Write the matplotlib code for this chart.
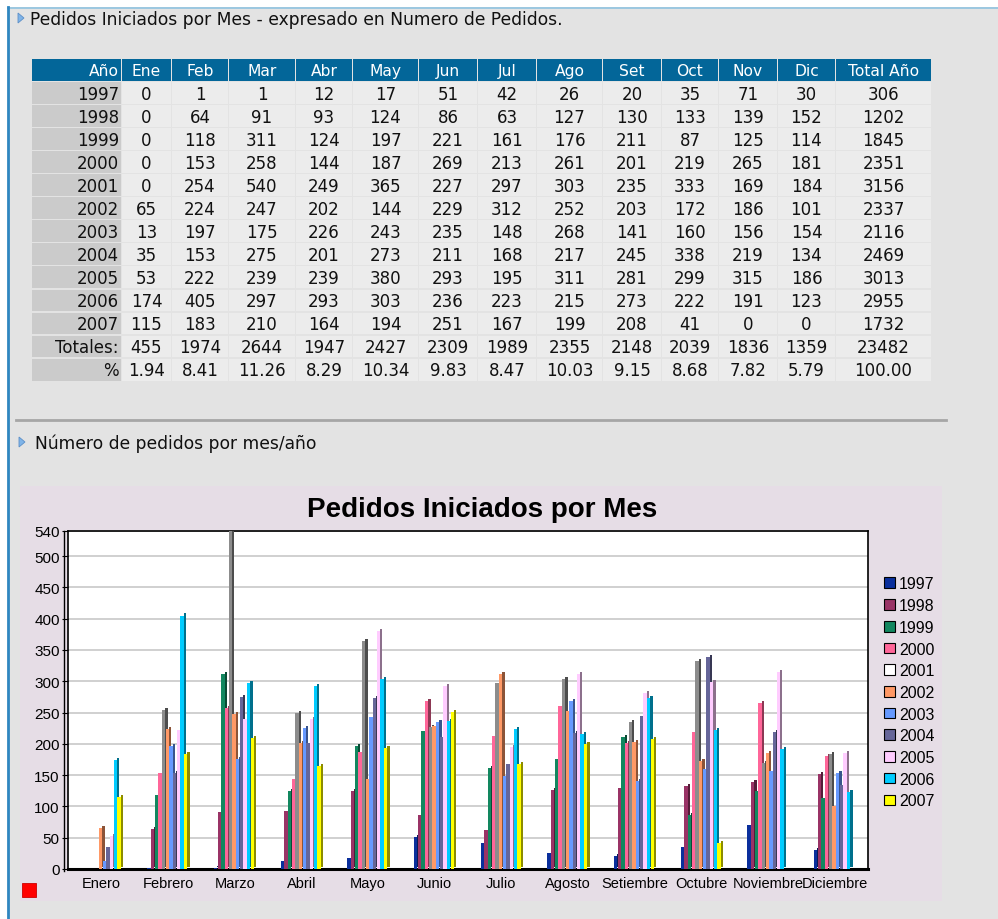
import matplotlib
matplotlib.use("Agg")
import matplotlib.pyplot as plt
from matplotlib.patches import Rectangle, Polygon, Patch
import numpy as np

years = [1997, 1998, 1999, 2000, 2001, 2002, 2003, 2004, 2005, 2006, 2007]
meses_cortos = ["Ene", "Feb", "Mar", "Abr", "May", "Jun", "Jul", "Ago", "Set", "Oct", "Nov", "Dic"]
meses = ["Enero", "Febrero", "Marzo", "Abril", "Mayo", "Junio", "Julio", "Agosto",
         "Setiembre", "Octubre", "Noviembre", "Diciembre"]

p1997 = [0, 1, 1, 12, 17, 51, 42, 26, 20, 35, 71, 30]
p1998 = [0, 64, 91, 93, 124, 86, 63, 127, 130, 133, 139, 152]
p1999 = [0, 118, 311, 124, 197, 221, 161, 176, 211, 87, 125, 114]
p2000 = [0, 153, 258, 144, 187, 269, 213, 261, 201, 219, 265, 181]
p2001 = [0, 254, 540, 249, 365, 227, 297, 303, 235, 333, 169, 184]
p2002 = [65, 224, 247, 202, 144, 229, 312, 252, 203, 172, 186, 101]
p2003 = [13, 197, 175, 226, 243, 235, 148, 268, 141, 160, 156, 154]
p2004 = [35, 153, 275, 201, 273, 211, 168, 217, 245, 338, 219, 134]
p2005 = [53, 222, 239, 239, 380, 293, 195, 311, 281, 299, 315, 186]
p2006 = [174, 405, 297, 293, 303, 236, 223, 215, 273, 222, 191, 123]
p2007 = [115, 183, 210, 164, 194, 251, 167, 199, 208, 41, 0, 0]

series = [p1997, p1998, p1999, p2000, p2001, p2002, p2003, p2004, p2005, p2006, p2007]

colores = ["#0a2f9c", "#993366", "#12875f", "#ff6699", "#8c8c8c", "#ff9966",
           "#6699ff", "#666699", "#ffccff", "#00ccff", "#ffff00"]
colores_leyenda = colores[:4] + ["#ffffff"] + colores[5:]

W, H = 998, 920
fig = plt.figure(figsize=(W / 100, H / 100), dpi=100)
fig.patch.set_facecolor("white")

# --- pagina de fondo (coordenadas en pixeles) ---
bg = fig.add_axes([0, 0, 1, 1])
bg.set_xlim(0, W)
bg.set_ylim(H, 0)
bg.axis("off")
bg.add_patch(Rectangle((8, 8), W - 8, H - 8, facecolor="#e3e3e3", edgecolor="none"))
bg.plot([8, W], [8.5, 8.5], color="#8fc3e0", lw=1.2)
bg.plot([8.5, 8.5], [8, H], color="#2f86c0", lw=2)

def triangulo(x, y):
    bg.add_patch(Polygon([[x, y - 5], [x, y + 5], [x + 6, y]], closed=True,
                         facecolor="#7fb4e8", edgecolor="#5c8fc7", lw=0.6))

triangulo(18, 19)
bg.text(30, 20, "Pedidos Iniciados por Mes - expresado en Numero de Pedidos.",
        fontsize=12.3, family="DejaVu Sans", va="center", ha="left", color="#111111")

# --- tabla ---
bordes = [32, 122, 172, 229, 296, 353, 419, 478, 537, 603, 662, 719, 778, 836, 932]
encab = ["Año"] + meses_cortos + ["Total Año"]
totales_mes = [sum(s[m] for s in series) for m in range(12)]
gran_total = sum(totales_mes)
filas = []
for y, s in zip(years, series):
    filas.append([str(y)] + [str(v) for v in s] + [str(sum(s))])
filas.append(["Totales:"] + [str(v) for v in totales_mes] + [str(gran_total)])
filas.append(["%"] + ["%.2f" % (100 * v / gran_total) for v in totales_mes] + ["100.00"])

top, paso = 60, 23.05
for r, fila in enumerate([encab] + filas):
    y0 = top + r * paso
    for c in range(len(bordes) - 1):
        x0, x1 = bordes[c], bordes[c + 1] - 1
        if r == 0:
            fc, tc, fs = "#036699", "white", 11.2
        elif c == 0:
            fc, tc, fs = "#cbcbcb", "#111111", 12
        else:
            fc, tc, fs = "#ececec", "#111111", 12
        bg.add_patch(Rectangle((x0, y0), x1 - x0, paso - 1.2, facecolor=fc, edgecolor="none"))
        if c == 0:
            bg.text(x1 - 2, y0 + paso / 2, fila[c], ha="right", va="center",
                    fontsize=fs, color=tc, family="DejaVu Sans")
        else:
            bg.text((x0 + x1) / 2, y0 + paso / 2, fila[c], ha="center", va="center",
                    fontsize=fs, color=tc, family="DejaVu Sans")

bg.plot([16, 946], [421, 421], color="#a6a6a6", lw=2)
triangulo(19, 443)
bg.text(35, 444, "Número de pedidos por mes/año", fontsize=12.3, family="DejaVu Sans",
        va="center", ha="left", color="#111111")

# --- panel del grafico ---
bg.add_patch(Rectangle((20, 487), 922, 415, facecolor="#e6dde6", edgecolor="none"))
bg.add_patch(Rectangle((22, 884), 14, 14, facecolor="#ff0000", edgecolor="#cc0000", lw=0.6))
bg.plot([64.5, 64.5], [532, 872], color="black", lw=1)

ax = fig.add_axes([68 / W, (H - 870) / H, 800 / W, 338 / H])
ax.set_facecolor("white")
x = np.arange(12)
paso_barra = 0.055
ancho = 0.05
lado = 0.035
dy = 3.2
for j, (vals, col) in enumerate(zip(series, colores)):
    pos = x + (j - 5) * paso_barra - 0.01
    rgb = np.array(matplotlib.colors.to_rgb(col))
    oscuro = rgb * 0.55
    ax.bar(pos + ancho / 2, vals, width=lado, bottom=dy, align="edge",
           color=oscuro, zorder=3 + j * 0.01)
    ax.bar(pos, vals, width=ancho, color=col, zorder=3 + j * 0.01 + 0.005)

ax.set_xlim(-0.5, 11.5)
ax.set_ylim(0, 540)
ax.set_yticks(list(range(0, 501, 50)) + [540])
ax.set_xticks(x)
ax.set_xticklabels(meses)
ax.tick_params(axis="x", length=0, pad=5, labelsize=10.5)
ax.tick_params(axis="y", length=4, labelsize=11, pad=2)
for lab in ax.get_xticklabels() + ax.get_yticklabels():
    lab.set_family("Liberation Sans")
ax.grid(axis="y", color="#c8c8c8", lw=1.2, zorder=0)
ax.set_axisbelow(True)
for s in ax.spines.values():
    s.set_color("black")
    s.set_linewidth(1.2)
ax.spines["bottom"].set_linewidth(2.2)

fig.text(482 / W, 1 - 510 / H, "Pedidos Iniciados por Mes", ha="center", va="center",
         fontsize=20, fontweight="bold", family="Liberation Sans")

handles = [Patch(facecolor=c, edgecolor="black", lw=0.8) for c in colores_leyenda]
fig.legend(handles, [str(y) for y in years], loc="upper left",
           bbox_to_anchor=(878 / W, 1 - 571 / H), frameon=False,
           prop={"family": "Liberation Sans", "size": 11.5},
           handlelength=0.65, handleheight=0.65, handletextpad=0.25, labelspacing=0.42,
           borderaxespad=0)

fig.savefig("out.png", dpi=100)
